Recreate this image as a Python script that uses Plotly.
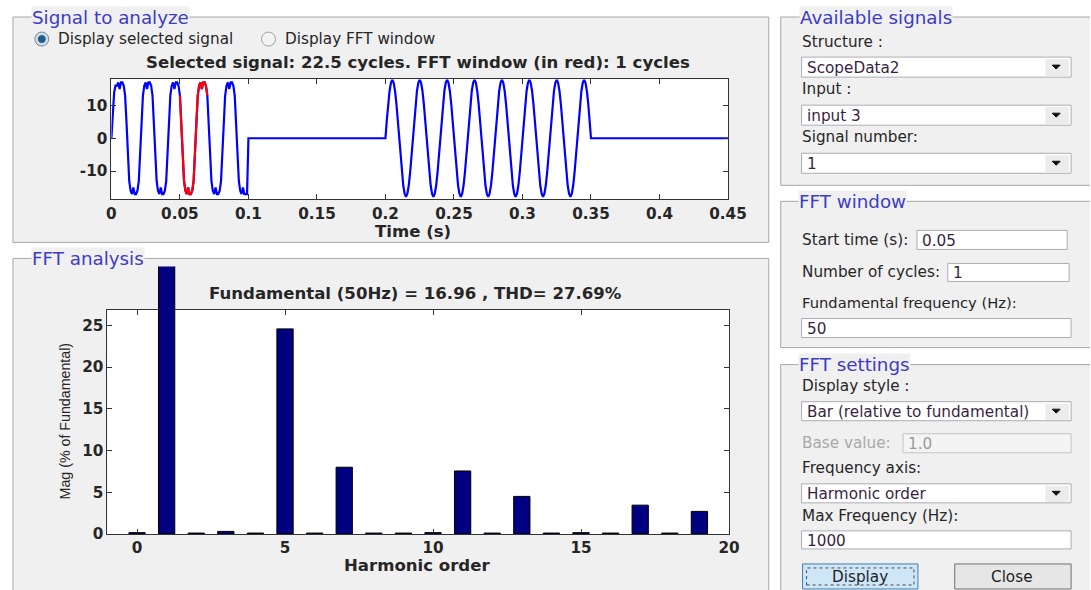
import plotly.graph_objects as go

W, H = 1091, 590          # design coordinates (reference pixels)
FIG_W, FIG_H = 1109, 600  # rendered figure size (the capture shrinks the page slightly)
K = FIG_W / W             # font scale factor

# ---------------- data ----------------
# time-domain signal, 1 ms samples from 0 to 0.099 s (distorted 50 Hz wave)
sig1_ms = list(range(0, 100))
sig1_v = [
    0, 8, 14, 16, 16, 17, 15, 17, 17, 16, 13, 5, -5, -13, -16, -17, -15, -17, -17, -16,
    -13, -5, 5, 13, 16, 17, 15, 17, 17, 16, 13, 5, -5, -13, -16, -17, -15, -17, -17, -16,
    -13, -5, 5, 13, 16, 17, 15, 17, 17, 16, 13, 5, -5, -13, -16, -17, -15, -17, -17, -16,
    -13, -5, 5, 13, 16, 17, 15, 17, 17, 16, 13, 5, -5, -13, -16, -17, -15, -17, -17, -16,
    -13, -5, 5, 13, 16, 17, 15, 17, 17, 16, 13, 5, -5, -13, -16, -17, -15, -17, -17, -17,
]
# flat part 0.1 .. 0.2 s
flat1_t = [0.100, 0.200]
flat1_v = [0, 0]
# sinusoidal part, 1 ms samples 0.201 .. 0.350 s
sig3_ms = list(range(201, 351))
sig3_v = [
    5.5, 10.5, 14.4, 16.9, 17.8, 16.9, 14.4, 10.5, 5.5, 0, -5.5, -10.5, -14.4, -16.9, -17.8, -16.9, -14.4, -10.5, -5.5, 0,
    5.5, 10.5, 14.4, 16.9, 17.8, 16.9, 14.4, 10.5, 5.5, 0, -5.5, -10.5, -14.4, -16.9, -17.8, -16.9, -14.4, -10.5, -5.5, 0,
    5.5, 10.5, 14.4, 16.9, 17.8, 16.9, 14.4, 10.5, 5.5, 0, -5.5, -10.5, -14.4, -16.9, -17.8, -16.9, -14.4, -10.5, -5.5, 0,
    5.5, 10.5, 14.4, 16.9, 17.8, 16.9, 14.4, 10.5, 5.5, 0, -5.5, -10.5, -14.4, -16.9, -17.8, -16.9, -14.4, -10.5, -5.5, 0,
    5.5, 10.5, 14.4, 16.9, 17.8, 16.9, 14.4, 10.5, 5.5, 0, -5.5, -10.5, -14.4, -16.9, -17.8, -16.9, -14.4, -10.5, -5.5, 0,
    5.5, 10.5, 14.4, 16.9, 17.8, 16.9, 14.4, 10.5, 5.5, 0, -5.5, -10.5, -14.4, -16.9, -17.8, -16.9, -14.4, -10.5, -5.5, 0,
    5.5, 10.5, 14.4, 16.9, 17.8, 16.9, 14.4, 10.5, 5.5, 0, -5.5, -10.5, -14.4, -16.9, -17.8, -16.9, -14.4, -10.5, -5.5, 0,
    5.5, 10.5, 14.4, 16.9, 17.8, 16.9, 14.4, 10.5, 5.5, 0,
]
flat2_t = [0.450]
flat2_v = [0]

# FFT window (red), 0.05 .. 0.07 s
red_ms = list(range(50, 71))
red_v = [13, 5, -5, -13, -16, -17, -15, -17, -17, -16,
         -13, -5, 5, 13, 16, 17, 15, 17, 17, 16, 13]

# harmonic spectrum (% of fundamental)
harm_order = list(range(0, 20))
harm_mag = [0.15, 100, 0.1, 0.3, 0.1, 24.6, 0.1, 8.0, 0.1, 0.1,
            0.15, 7.55, 0.1, 4.5, 0.1, 0.15, 0.1, 3.45, 0.1, 2.7]

top_xticks = [0, 0.05, 0.1, 0.15, 0.2, 0.25, 0.3, 0.35, 0.4, 0.45]
top_xticklabels = ["0", "0.05", "0.1", "0.15", "0.2", "0.25", "0.3", "0.35", "0.4", "0.45"]
top_yticks = [-10, 0, 10]
bot_xticks = [0, 5, 10, 15, 20]
bot_yticks = [0, 5, 10, 15, 20, 25]

title_top = "Selected signal: 22.5 cycles. FFT window (in red): 1 cycles"
title_bot = "Fundamental (50Hz) = 16.96 , THD= 27.69%"

# ---------------- helpers ----------------
def X(px):
    return px / W

def Y(py):
    return 1 - py / H

shapes = []
annots = []

def rect(x0, y0, x1, y1, fill, line="#a8a8a8", lw=1, layer="below", dash=None):
    d = dict(type="rect", xref="paper", yref="paper",
             x0=X(x0), x1=X(x1), y0=Y(y1), y1=Y(y0),
             fillcolor=fill, line=dict(color=line, width=lw), layer=layer)
    if dash:
        d["line"]["dash"] = dash
    shapes.append(d)

def hline(x0, x1, y, color="#a8a8a8"):
    shapes.append(dict(type="line", xref="paper", yref="paper", x0=X(x0), x1=X(x1),
                       y0=Y(y), y1=Y(y), line=dict(color=color, width=1), layer="below"))

def vline(x, y0, y1, color="#a8a8a8"):
    shapes.append(dict(type="line", xref="paper", yref="paper", x0=X(x), x1=X(x),
                       y0=Y(y0), y1=Y(y1), line=dict(color=color, width=1), layer="below"))

def panel(x0, y0, x1, y1):
    """Group box; edges beyond the figure are not drawn."""
    cx1 = min(x1, W)
    cy1 = min(y1, H)
    rect(x0, y0, cx1, cy1, "#f0f0f0", line="#f0f0f0", lw=0)
    hline(x0, cx1, y0)
    vline(x0, y0, cy1)
    if x1 <= W:
        vline(x1, y0, cy1)
    if y1 <= H:
        hline(x0, cx1, y1)

def circle(cx, cy, r, fill, line, lw=1):
    shapes.append(dict(type="circle", xref="paper", yref="paper",
                       x0=X(cx - r), x1=X(cx + r), y0=Y(cy + r), y1=Y(cy - r),
                       fillcolor=fill, line=dict(color=line, width=lw), layer="above"))

def txt(s, x, y, size=15, color="#262626", anchor="left", weight="normal",
        family="DejaVu Sans", bg=None, angle=0):
    a = dict(text=s, x=X(x), y=Y(y), xref="paper", yref="paper",
             xanchor=anchor, yanchor="middle", showarrow=False, textangle=angle,
             font=dict(family=family, size=size * K, color=color, weight=weight))
    if bg:
        a["bgcolor"] = bg
        a["borderpad"] = 0
    annots.append(a)

PANEL = "#f0f0f0"
BLUE_T = "#3c3cc4"
DD_TXT = "#3a1f3f"

# panels
panel(8, 17, 768, 242)
panel(8, 258, 768, 700)
panel(780, 17, 1200, 185)
panel(780, 201, 1200, 347)
panel(780, 364, 1200, 700)
# white plot areas
rect(107, 79, 727, 199, "white", line="white", lw=0)
rect(103, 309, 728, 533, "white", line="white", lw=0)

# panel titles
txt("Signal to analyze", 26, 17, size=18, color=BLUE_T, bg=PANEL)
txt("FFT analysis", 26, 258, size=18, color=BLUE_T, bg=PANEL)
txt("Available signals", 798, 17, size=18, color=BLUE_T, bg=PANEL)
txt("FFT window", 797, 201, size=18, color=BLUE_T, bg=PANEL)
txt("FFT settings", 797, 364, size=18, color=BLUE_T, bg=PANEL)

# radio buttons
circle(37, 39, 7, "#cfdbe6", "#7d8a96")
circle(37, 39, 3.5, "#1d5c8c", "#1d5c8c")
circle(265, 39, 7, "#f3f3f3", "#a0a0a0")
txt("Display selected signal", 51, 39)
txt("Display FFT window", 280, 39)

# plot texts
AX_SIZE = 16.3
txt(title_top, 415, 62, size=AX_SIZE, weight="bold", anchor="center")
txt("Time (s)", 410, 231, size=AX_SIZE, weight="bold", anchor="center")
txt(title_bot, 413, 293, size=AX_SIZE, weight="bold", anchor="center")
txt("Harmonic order", 414, 565, size=AX_SIZE, weight="bold", anchor="center")
txt("Mag (% of Fundamental)", 50, 421, size=14, angle=-90,
    family="Liberation Sans Narrow, Liberation Sans")

# dropdown helper
def dropdown(y0, y1, label):
    rect(801, y0, 1072, y1, "white", line="#abadb3", layer="above")
    rect(1046, y0 + 2, 1070, y1 - 1, "#ececec", line="#ececec", lw=0, layer="above")
    cy = (y0 + y1) / 2
    path = "M {} {} L {} {} L {} {} Z".format(X(1053), Y(cy - 2), X(1061), Y(cy - 2), X(1057), Y(cy + 2))
    shapes.append(dict(type="path", xref="paper", yref="paper", path=path,
                       fillcolor="#111111", line=dict(color="#111111", width=1), layer="above"))
    txt(label, 804, cy + 1, color=DD_TXT)

def textbox(x0, y0, x1, y1, label, fill="white", color=DD_TXT, line="#abadb3"):
    rect(x0, y0, x1, y1, fill, line=line, layer="above")
    txt(label, x0 + 3, (y0 + y1) / 2 + 1, color=color)

# Available signals
txt("Structure :", 799, 42)
dropdown(57, 77, "ScopeData2")
txt("Input :", 799, 89)
dropdown(105, 125, "input 3")
txt("Signal number:", 799, 137)
dropdown(153, 173, "1")

# FFT window
txt("Start time (s):", 799, 240)
textbox(917, 230, 1068, 249, "0.05")
txt("Number of cycles:", 799, 272)
textbox(948, 263, 1070, 281, "1")
txt("Fundamental frequency (Hz):", 799, 302, size=14.5)
textbox(801, 318, 1072, 337, "50")

# FFT settings
txt("Display style :", 799, 385)
dropdown(401, 420, "Bar (relative to fundamental)")
txt("Base value:", 799, 442, color="#a8a8a8")
textbox(903, 433, 1072, 452, "1.0", fill="#f4f4f4", color="#9a9a9a", line="#c4c4c4")
txt("Frequency axis:", 799, 467)
dropdown(483, 502, "Harmonic order")
txt("Max Frequency (Hz):", 799, 515)
textbox(801, 530, 1072, 548, "1000")

# buttons
rect(802, 563, 918, 588, "#cfe6f8", line="#3c7fb1", layer="above")
rect(806, 567, 914, 584, "rgba(0,0,0,0)", line="#4a4a4a", dash="dot", layer="above")
txt("Display", 860, 576, anchor="center", color="#1e1e1e")
rect(955, 563, 1072, 588, "#e6e6e6", line="#707070", layer="above")
txt("Close", 1013, 576, anchor="center", color="#1e1e1e")

# ---------------- traces ----------------
sig_t = [m / 1000 for m in sig1_ms] + flat1_t + [m / 1000 for m in sig3_ms] + flat2_t
sig_v = sig1_v + flat1_v + sig3_v + flat2_v
red_t = [m / 1000 for m in red_ms]

fig = go.Figure()
fig.add_trace(go.Scatter(x=sig_t, y=sig_v, mode="lines", line=dict(color="#0000ff", width=2.2),
                         xaxis="x", yaxis="y", showlegend=False, hoverinfo="skip"))
fig.add_trace(go.Scatter(x=red_t, y=red_v, mode="lines", line=dict(color="#ff0000", width=2.2),
                         xaxis="x", yaxis="y", showlegend=False, hoverinfo="skip"))
fig.add_trace(go.Bar(x=harm_order, y=harm_mag, width=0.55,
                     marker=dict(color="#000080", line=dict(color="#000000", width=1)),
                     xaxis="x3", yaxis="y3", showlegend=False, hoverinfo="skip"))

tickfont = dict(family="DejaVu Sans", size=15 * K, color="#262626", weight="bold")
axcommon = dict(showline=True, linecolor="#333333", linewidth=1, mirror="ticks",
                ticks="inside", ticklen=5, tickcolor="#333333", showgrid=False,
                zeroline=False, tickfont=tickfont, fixedrange=True)

fig.update_layout(
    width=FIG_W, height=FIG_H, autosize=False,
    margin=dict(l=0, r=0, t=0, b=0),
    paper_bgcolor="white", plot_bgcolor="rgba(0,0,0,0)",
    shapes=shapes, annotations=annots, showlegend=False,
    xaxis=dict(domain=[X(107), X(727)], range=[0, 0.45], anchor="y",
               tickvals=top_xticks, ticktext=top_xticklabels, **axcommon),
    yaxis=dict(domain=[Y(199), Y(79)], range=[-18.6, 18.0], anchor="x",
               tickvals=top_yticks, ticktext=[str(v) for v in top_yticks], **axcommon),
    xaxis2=dict(domain=[X(103), X(728)], range=[-1, 20], anchor="y2",
                tickvals=bot_xticks, ticktext=[str(v) for v in bot_xticks], **axcommon),
    yaxis2=dict(domain=[Y(533), Y(309)], range=[0, 26.9], anchor="x2",
                tickvals=bot_yticks, ticktext=[str(v) for v in bot_yticks], **axcommon),
    xaxis3=dict(domain=[X(103), X(728)], range=[-1, 20], anchor="y3", visible=False,
                fixedrange=True),
    yaxis3=dict(domain=[Y(533), Y(266)], range=[0, 267 / 8.32], anchor="x3", visible=False,
                fixedrange=True),
)
# empty trace so axis pair 2 exists
fig.add_trace(go.Scatter(x=[None], y=[None], xaxis="x2", yaxis="y2", showlegend=False,
                         hoverinfo="skip"))

post = (
    "document.documentElement.style.margin='0px';"
    "document.documentElement.style.overflow='hidden';"
    "document.body.style.margin='0px';"
    "document.body.style.overflow='hidden';"
)
fig.write_html("out.html", config={"displayModeBar": False}, post_script=post)
